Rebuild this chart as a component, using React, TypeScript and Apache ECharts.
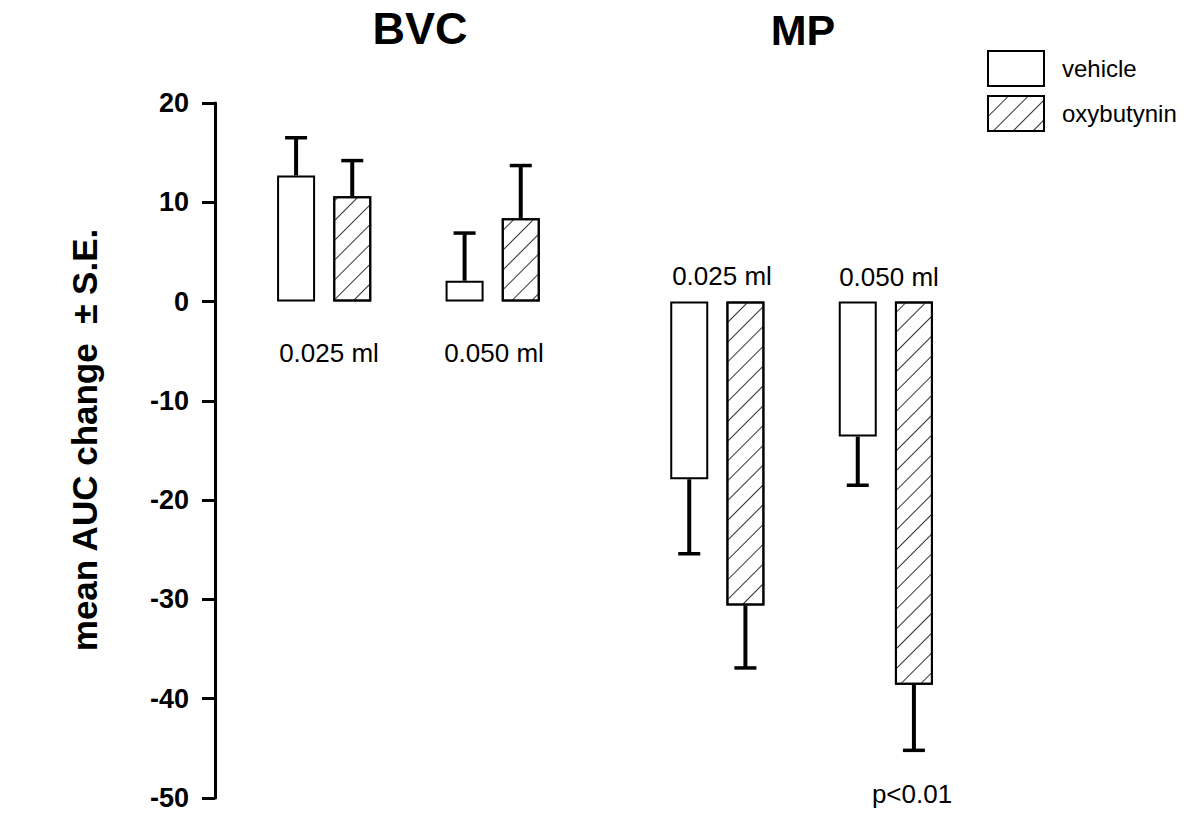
import React, { useEffect, useRef } from "react";
import * as echarts from "echarts";

// Slots along the x axis (empty slots give the gaps between dose groups)
const categories = [
  "BVC 0.025 vehicle", "BVC 0.025 oxybutynin", "gap1",
  "BVC 0.050 vehicle", "BVC 0.050 oxybutynin", "gap2", "gap3",
  "MP 0.025 vehicle", "MP 0.025 oxybutynin", "gap4",
  "MP 0.050 vehicle", "MP 0.050 oxybutynin",
];
const vehicleSlots = [0, 3, 7, 10];
const oxySlots = [1, 4, 8, 11];
const vehicleMeans = [12.7, 2.1, -17.9, -13.6];
const vehicleSE = [3.8, 4.8, 7.5, 4.9];
const oxyMeans = [10.6, 8.4, -30.6, -38.6];
const oxySE = [3.6, 5.3, 6.3, 6.6];
const yMin = -50;
const yMax = 20;
const yInterval = 10;
const seriesNames = ["vehicle", "oxybutynin"];
const panelTitles = ["BVC", "MP"];
const doseLabels = ["0.025 ml", "0.050 ml"];
const pLabel = "p<0.01";
const yAxisTitle = "mean AUC change  \u00b1 S.E.";

const FONT = "'Liberation Sans', Arial, Helvetica, sans-serif";

function slotData(slots: number[], values: number[]) {
  const arr: (number | string)[] = categories.map(() => "-");
  slots.forEach((s, i) => {
    arr[s] = values[i];
  });
  return arr;
}

function errData(slots: number[], means: number[], se: number[]) {
  return slots.map((s, i) => [s, means[i], means[i] + (means[i] >= 0 ? se[i] : -se[i])]);
}

const renderError = (_params: any, api: any) => {
  const x = api.value(0);
  const m = api.value(1);
  const e = api.value(2);
  const p0 = api.coord([x, m]);
  const p1 = api.coord([x, e]);
  return {
    type: "group",
    children: [
      {
        type: "line",
        shape: { x1: p0[0], y1: p0[1], x2: p1[0], y2: p1[1] },
        style: { stroke: "#000", lineWidth: 4 },
      },
      {
        type: "line",
        shape: { x1: p1[0] - 11, y1: p1[1], x2: p1[0] + 11, y2: p1[1] },
        style: { stroke: "#000", lineWidth: 3.5 },
      },
    ],
  };
};

const hatch = {
  symbol: "rect",
  symbolSize: 1,
  color: "#333",
  dashArrayX: [1, 0],
  dashArrayY: [1, 13],
  rotation: -Math.PI / 4,
};

function label(text: string, x: number, y: number, size: number, bold = false, extra: any = {}) {
  return {
    type: "text",
    x,
    y,
    ...extra,
    style: {
      text,
      fill: "#000",
      fontFamily: FONT,
      fontSize: size,
      fontWeight: bold ? "bold" : "normal",
      textAlign: "center",
      textVerticalAlign: "bottom",
      ...(extra.style || {}),
    },
  };
}

export default function App() {
  const ref = useRef<HTMLDivElement>(null);

  useEffect(() => {
    if (!ref.current) return;
    const chart = echarts.init(ref.current, undefined, { renderer: "svg" });

    const option: any = {
      animation: false,
      backgroundColor: "#fff",
      textStyle: { fontFamily: FONT },
      grid: { left: 268, top: 103, width: 674, height: 695 },
      legend: {
        data: seriesNames,
        orient: "vertical",
        left: 982,
        top: 45,
        itemWidth: 56,
        itemHeight: 35,
        itemGap: 8,
        icon: "rect",
        textStyle: { fontSize: 24, color: "#000", fontFamily: FONT, padding: [0, 0, 0, 13] },
      },
      xAxis: {
        type: "category",
        data: categories,
        axisLine: { show: false },
        axisTick: { show: false },
        axisLabel: { show: false },
        splitLine: { show: false },
      },
      yAxis: {
        type: "value",
        min: yMin,
        max: yMax,
        interval: yInterval,
        offset: 53,
        axisLine: { show: true, lineStyle: { color: "#000", width: 3 } },
        axisTick: { show: true, length: 13, lineStyle: { color: "#000", width: 3 } },
        axisLabel: { fontSize: 27, fontWeight: "bold", color: "#000", margin: 26, fontFamily: FONT },
        splitLine: { show: false },
      },
      series: [
        {
          name: seriesNames[0],
          type: "bar",
          data: slotData(vehicleSlots, vehicleMeans),
          barWidth: 38,
          barGap: "-100%",
          itemStyle: { color: "#fff", borderColor: "#000", borderWidth: 2 },
          z: 2,
        },
        {
          name: seriesNames[1],
          type: "bar",
          data: slotData(oxySlots, oxyMeans),
          barWidth: 38,
          barGap: "-100%",
          itemStyle: { color: "#fff", borderColor: "#000", borderWidth: 2, decal: hatch },
          z: 2,
        },
        {
          name: "vehicle SE",
          type: "custom",
          data: errData(vehicleSlots, vehicleMeans, vehicleSE),
          renderItem: renderError,
          encode: { x: 0, y: [1, 2] },
          z: 3,
        },
        {
          name: "oxybutynin SE",
          type: "custom",
          data: errData(oxySlots, oxyMeans, oxySE),
          renderItem: renderError,
          encode: { x: 0, y: [1, 2] },
          z: 3,
        },
      ],
      graphic: [
        label(panelTitles[0], 420, 51, 45, true),
        label(panelTitles[1], 803, 51, 43, true),
        label(doseLabels[0], 329, 366, 26),
        label(doseLabels[1], 494, 366, 26),
        label(doseLabels[0], 722, 289, 26),
        label(doseLabels[1], 889, 290, 26),
        label(pLabel, 912, 807, 26),
        label(yAxisTitle, 84, 440, 35, true, {
          rotation: Math.PI / 2,
          style: { textVerticalAlign: "middle" },
        }),
      ],
    };

    chart.setOption(option);
    return () => {
      chart.dispose();
    };
  }, []);

  return (
    <div
      ref={ref}
      style={{ position: "absolute", left: 0, top: 0, width: 1200, height: 840, background: "#fff" }}
    />
  );
}
